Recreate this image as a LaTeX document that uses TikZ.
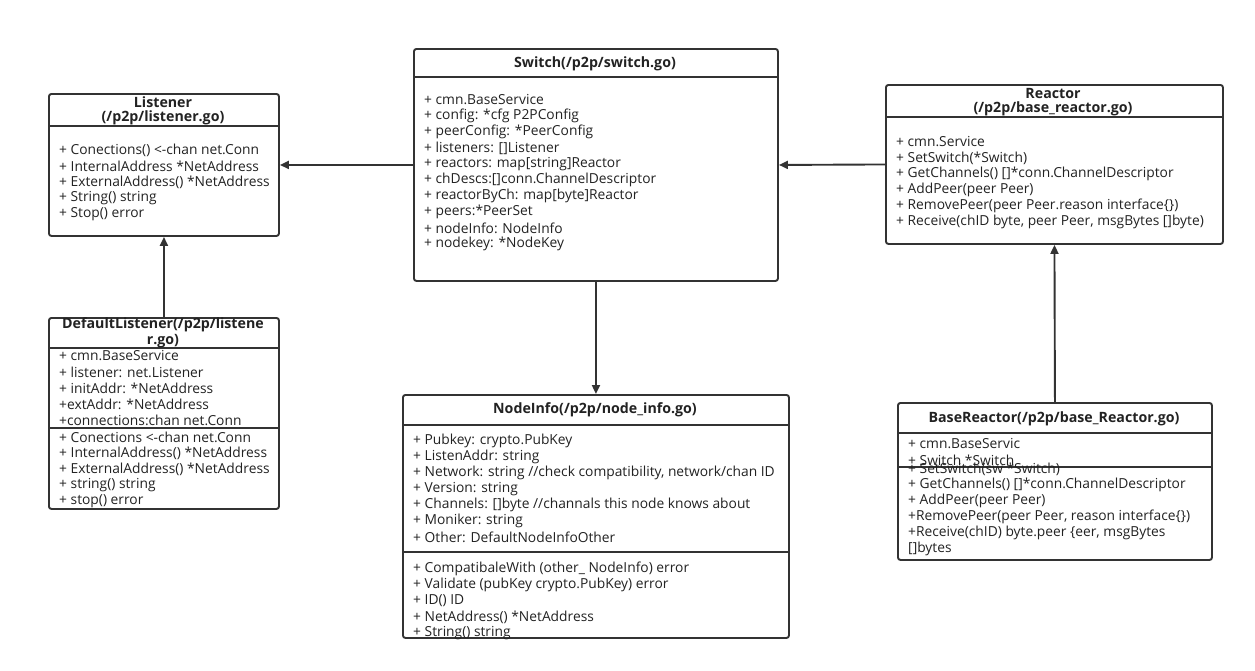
\documentclass[tikz,border=0pt]{standalone}
\usepackage{fontspec}
\setmainfont{Open Sans}
\usetikzlibrary{arrows.meta}
\definecolor{ln}{HTML}{333333}
\definecolor{tx}{HTML}{222222}
\tikzset{
  umlbox/.style={draw=ln, line width=1.9pt, rounded corners=2.5pt, fill=white, inner sep=0pt, anchor=north west},
  divider/.style={draw=ln, line width=1.9pt},
  txt/.style={anchor=west, inner sep=0pt, yshift=-1pt, text=tx, font=\fontsize{13.8}{15}\selectfont},
  ttl/.style={anchor=center, inner sep=0pt, yshift=-1pt, text=tx, font=\fontsize{14.2}{15}\selectfont\bfseries},
  arr/.style={draw=ln, line width=1.9pt, -{Triangle[length=9pt,width=8pt]}}
}
\begin{document}
\begin{tikzpicture}[x=1pt,y=-1pt]
\useasboundingbox (0,0) rectangle (1255,670);
% Boxes
\node[umlbox, minimum width=230pt, minimum height=142pt] (listener) at (48,93) {};
\node[umlbox, minimum width=364pt, minimum height=232pt] (switch) at (413,48) {};
\node[umlbox, minimum width=337pt, minimum height=159pt] (reactor) at (885,84) {};
\node[umlbox, minimum width=230pt, minimum height=191pt] (deflistener) at (48,317) {};
\node[umlbox, minimum width=386pt, minimum height=243pt] (nodeinfo) at (402,394) {};
\node[umlbox, minimum width=314pt, minimum height=157pt] (basereactor) at (897,402) {};
% dividers
\draw[divider] (48,126) -- (278,126);
\draw[divider] (413,77) -- (777,77);
\draw[divider] (885,117) -- (1222,117);
\draw[divider] (48,348) -- (278,348);
\draw[divider] (48,428) -- (278,428);
\draw[divider] (402,425) -- (788,425);
\draw[divider] (402,552) -- (788,552);
\draw[divider] (897,433) -- (1211,433);
\draw[divider] (897,467) -- (1211,467);
% Listener
\node[ttl] (lt1) at (163,101) {Listener};
\node[ttl] (lt2) at (163,117) {(/p2p/listener.go)};
\node[txt] (l1) at (59,149) {+ Conections() <-chan net.Conn};
\node[txt] (l2) at (59,165) {+ InternalAddress *NetAddress};
\node[txt] (l3) at (59,181) {+ ExternalAddress() *NetAddress};
\node[txt] (l4) at (59,197) {+ String() string};
\node[txt] (l5) at (59,213) {+ Stop() error};
% Switch
\node[ttl] (st) at (595,63) {Switch(/p2p/switch.go)};
\node[txt] (s1) at (424,99) {+ cmn.BaseService};
\node[txt] (s2) at (424,115) {+ config: *cfg P2PConfig};
\node[txt] (s3) at (424,131) {+ peerConfig: *PeerConfig};
\node[txt] (s4) at (424,147) {+ listeners: []Listener};
\node[txt] (s5) at (424,163) {+ reactors: map[string]Reactor};
\node[txt] (s6) at (424,179) {+ chDescs:[]conn.ChannelDescriptor};
\node[txt] (s7) at (424,195) {+ reactorByCh: map[byte]Reactor};
\node[txt] (s8) at (424,211) {+ peers:*PeerSet};
\node[txt] (s9) at (424,227) {+ nodeInfo: NodeInfo};
\node[txt] (s10) at (424,243) {+ nodekey: *NodeKey};
% Reactor
\node[ttl] (rt1) at (1053,92) {Reactor};
\node[ttl] (rt2) at (1053,108) {(/p2p/base\_reactor.go)};
\node[txt] (r1) at (896,141) {+ cmn.Service};
\node[txt] (r2) at (896,157) {+ SetSwitch(*Switch)};
\node[txt] (r3) at (896,173) {+ GetChannels() []*conn.ChannelDescriptor};
\node[txt] (r4) at (896,189) {+ AddPeer(peer Peer)};
\node[txt] (r5) at (896,205) {+ RemovePeer(peer Peer.reason interface\{\})};
\node[txt] (r6) at (896,221) {+ Receive(chID byte, peer Peer, msgBytes []byte)};
% DefaultListener
\node[ttl] (dt1) at (163,324) {DefaultListener(/p2p/listene};
\node[ttl] (dt2) at (163,340) {r.go)};
\node[txt] (d1) at (59,355) {+ cmn.BaseService};
\node[txt] (d2) at (59,371) {+ listener: net.Listener};
\node[txt] (d3) at (59,387) {+ initAddr: *NetAddress};
\node[txt] (d4) at (59,403) {+extAddr: *NetAddress};
\node[txt] (d5) at (59,419) {+connections:chan net.Conn};
\node[txt] (d6) at (59,436) {+ Conections <-chan net.Conn};
\node[txt] (d7) at (59,452) {+ InternalAddress() *NetAddress};
\node[txt] (d8) at (59,468) {+ ExternalAddress() *NetAddress};
\node[txt] (d9) at (59,484) {+ string() string};
\node[txt] (d10) at (59,500) {+ stop() error};
% NodeInfo
\node[ttl] (nt) at (595,409) {NodeInfo(/p2p/node\_info.go)};
\node[txt] (n1) at (413,440) {+ Pubkey: crypto.PubKey};
\node[txt] (n2) at (413,456) {+ ListenAddr: string};
\node[txt] (n3) at (413,472) {+ Network: string //check compatibility, network/chan ID};
\node[txt] (n4) at (413,488) {+ Version: string};
\node[txt] (n5) at (413,504) {+ Channels: []byte //channals this node knows about};
\node[txt] (n6) at (413,520) {+ Moniker: string};
\node[txt] (n7) at (413,536) {+ Other: DefaultNodeInfoOther};
\node[txt] (n8) at (413,568) {+ CompatibaleWith (other\_ NodeInfo) error};
\node[txt] (n9) at (413,584) {+ Validate (pubKey crypto.PubKey) error};
\node[txt] (n10) at (413,600) {+ ID() ID};
\node[txt] (n11) at (413,616) {+ NetAddress() *NetAddress};
\node[txt] (n12) at (413,632) {+ String() string};
% BaseReactor
\node[ttl] (bt) at (1054,418) {BaseReactor(/p2p/base\_Reactor.go)};
\node[txt] (b1) at (908,443) {+ cmn.BaseServic};
\node[txt] (b2) at (908,459) {+ Switch *Switch};
\node[txt] (b3) at (908,468) {+ SetSwitch(sw *Switch)};
\node[txt] (b4) at (908,484) {+ GetChannels() []*conn.ChannelDescriptor};
\node[txt] (b5) at (908,500) {+ AddPeer(peer Peer)};
\node[txt] (b6) at (908,516) {+RemovePeer(peer Peer, reason interface\{\})};
\node[txt] (b7) at (908,532) {+Receive(chID) byte.peer \{eer, msgBytes};
\node[txt] (b8) at (908,548) {[]bytes};
% connectors
\draw[arr] (switch.west) -- (listener.east);
\draw[arr] (reactor.west) -- (switch.east);
\draw[arr] (switch.south) -- (nodeinfo.north);
\draw[arr] (deflistener.north) -- (listener.south);
\draw[arr] (basereactor.north) -- (reactor.south);
\end{tikzpicture}
\end{document}
